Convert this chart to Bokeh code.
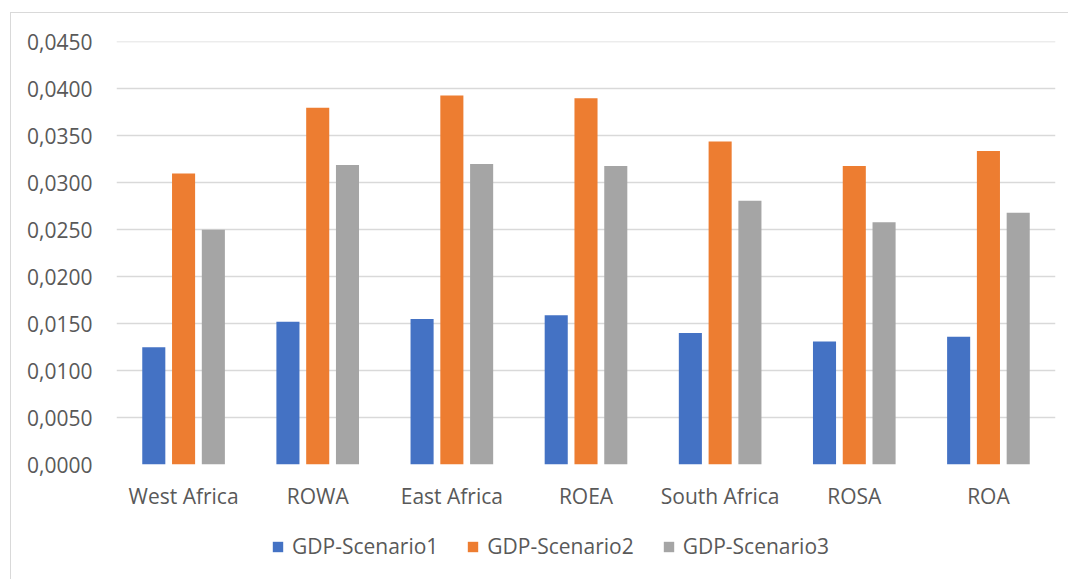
from bokeh.plotting import figure
from bokeh.layouts import column
from bokeh.models import (FactorRange, Range1d, FixedTicker, CustomJSTickFormatter,
                          Legend, LegendItem, ColumnDataSource)
from bokeh.transform import dodge
from bokeh.embed import file_html
from bokeh.resources import INLINE

regions = ["West Africa", "ROWA", "East Africa", "ROEA", "South Africa", "ROSA", "ROA"]
series_names = ["GDP-Scenario1", "GDP-Scenario2", "GDP-Scenario3"]
scenario1 = [0.0125, 0.0152, 0.0155, 0.0159, 0.0140, 0.0131, 0.0136]
scenario2 = [0.0310, 0.0380, 0.0393, 0.0390, 0.0344, 0.0318, 0.0334]
scenario3 = [0.0250, 0.0319, 0.0320, 0.0318, 0.0281, 0.0258, 0.0268]
y_ticks = [0.0, 0.005, 0.010, 0.015, 0.020, 0.025, 0.030, 0.035, 0.040, 0.045]

colors = ["#4472C4", "#ED7D31", "#A5A5A5"]
FONT = "Open Sans"
TXT = "#595959"
FS = "21px"
BORDER = "1px solid #d9d9d9"

src = ColumnDataSource(dict(region=regions, s1=scenario1, s2=scenario2, s3=scenario3))

p = figure(width=1057, height=507, x_range=FactorRange(*regions), y_range=Range1d(0, 0.04505),
           output_backend="svg", toolbar_location=None)
p.min_border_left = 105
p.min_border_right = 13
p.min_border_top = 28
p.min_border_bottom = 56
p.outline_line_color = None

offsets = [-0.222, 0.0, 0.222]
renderers = []
for key, off, col in zip(["s1", "s2", "s3"], offsets, colors):
    r = p.vbar(x=dodge("region", off, range=p.x_range), top=key, width=0.172,
               source=src, fill_color=col, line_color=None)
    renderers.append(r)

p.xgrid.grid_line_color = None
p.ygrid.grid_line_color = "#d9d9d9"
p.ygrid.grid_line_width = 1.5
p.yaxis.ticker = FixedTicker(ticks=y_ticks)
p.yaxis.formatter = CustomJSTickFormatter(code="return tick.toFixed(4).replace('.', ',');")

for ax in (p.xaxis, p.yaxis):
    ax.axis_line_color = None
    ax.major_tick_line_color = None
    ax.minor_tick_line_color = None
    ax.major_label_text_font = FONT
    ax.major_label_text_font_size = FS
    ax.major_label_text_color = TXT
p.yaxis.major_label_standoff = 18
p.xaxis.major_label_standoff = 11

# legend strip (frame is aligned with the main plot's frame by the column layout)
pl = figure(width=1057, height=59, x_range=Range1d(0, 1), y_range=Range1d(0, 1),
            output_backend="svg", toolbar_location=None,
            min_border_left=0, min_border_right=0, min_border_top=0, min_border_bottom=0)
pl.outline_line_color = None
pl.xaxis.visible = False
pl.yaxis.visible = False
pl.grid.visible = False
leg_renderers = []
for col in colors:
    leg_renderers.append(pl.vbar(x=[0], top=[0], width=0, fill_color=col,
                                 line_color=None, visible=False))

legend = Legend(items=[LegendItem(label=n, renderers=[r]) for n, r in zip(series_names, leg_renderers)],
                orientation="horizontal", location=(155, 19))
legend.glyph_width = 13
legend.glyph_height = 13
legend.label_standoff = 8
legend.spacing = 28
legend.padding = 0
legend.margin = 0
legend.border_line_color = None
legend.background_fill_alpha = 0
legend.label_text_font = FONT
legend.label_text_font_size = FS
legend.label_text_color = TXT
pl.add_layout(legend, "center")

layout = column(p, pl, spacing=0, margin=(12, 0, 0, 10),
                styles={"border-left": BORDER, "border-top": BORDER})

open("out.html", "w").write(file_html(layout, INLINE))
